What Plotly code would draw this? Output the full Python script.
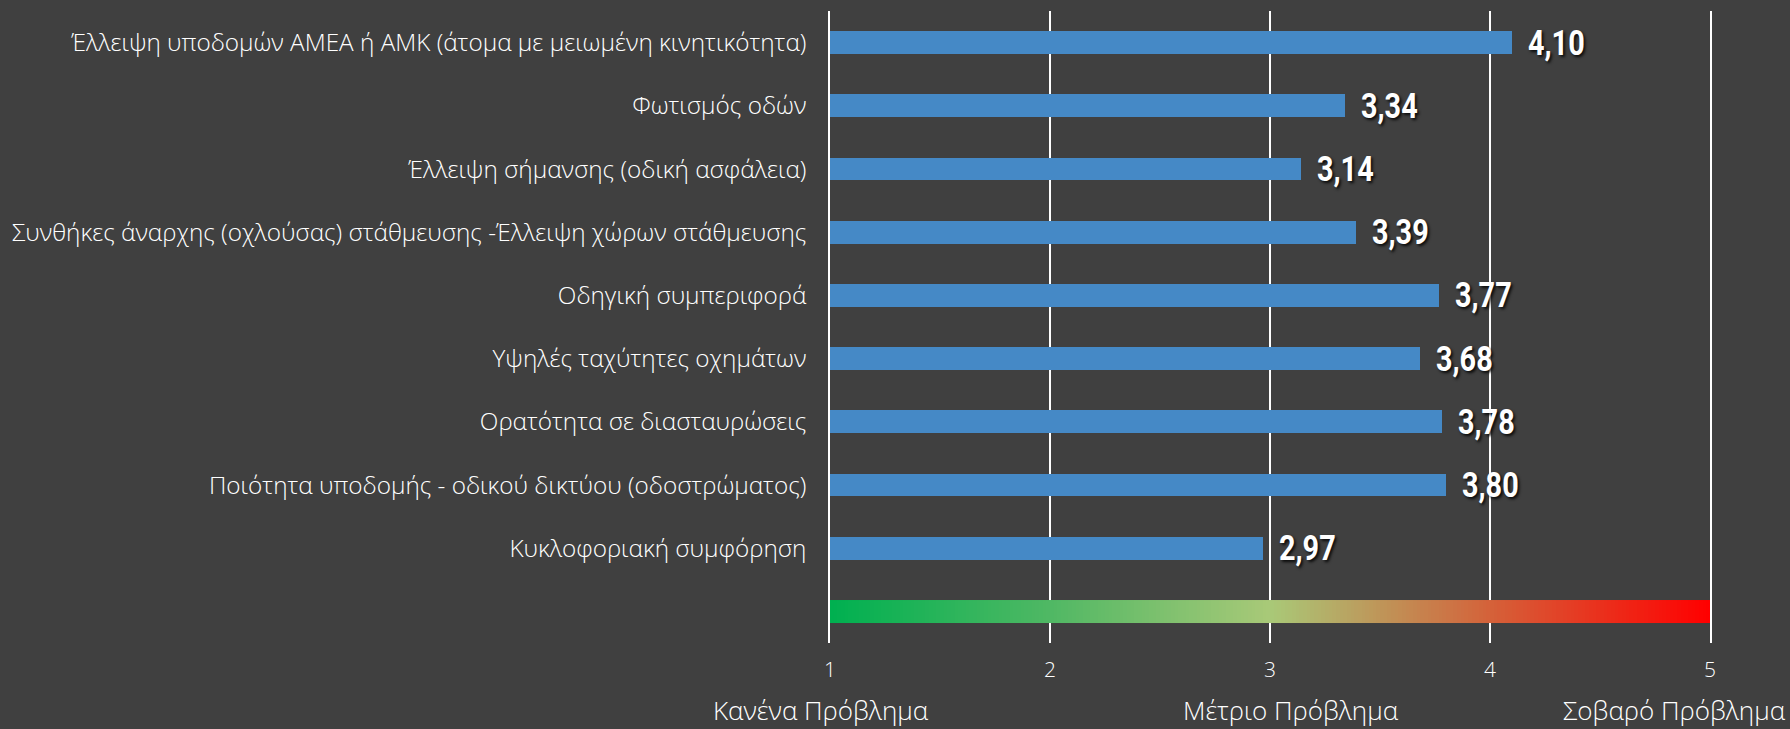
import numpy as np
import plotly.graph_objects as go

# Road-safety problem ratings, top row first (1 = no problem, 5 = serious problem)
categories = [
    "Έλλειψη υποδομών ΑΜΕΑ ή ΑΜΚ (άτομα με μειωμένη κινητικότητα)",
    "Φωτισμός οδών",
    "Έλλειψη σήμανσης (οδική ασφάλεια)",
    "Συνθήκες άναρχης (οχλούσας) στάθμευσης -Έλλειψη χώρων στάθμευσης",
    "Οδηγική συμπεριφορά",
    "Υψηλές ταχύτητες οχημάτων",
    "Ορατότητα σε διασταυρώσεις",
    "Ποιότητα υποδομής - οδικού δικτύου (οδοστρώματος)",
    "Κυκλοφοριακή συμφόρηση",
]
scores = [4.10, 3.34, 3.14, 3.39, 3.77, 3.68, 3.78, 3.80, 2.97]

scale_ticks = [1, 2, 3, 4, 5]
scale_labels = ["Κανένα Πρόβλημα", "Μέτριο Πρόβλημα", "Σοβαρό Πρόβλημα"]
scale_label_pos = [1, 3, 5]

BG = "#404040"
BAR = "#4589c6"
LABEL_FONT = "Open Sans"
VALUE_FONT = "Roboto, sans-serif"

rows = list(range(len(categories)))
legend_row = len(categories)  # row holding the green-to-red scale strip
bar_w = 0.36

fig = go.Figure()

# colour strip under the bars, running across the whole 1–5 scale
edges = np.linspace(scale_ticks[0], scale_ticks[-1], 241)
fig.add_trace(go.Heatmap(
    x=edges,
    y=[legend_row - bar_w / 2, legend_row + bar_w / 2],
    z=[np.linspace(0, 1, len(edges) - 1)],
    colorscale=[
        [0.0, "#00b050"],
        [0.25, "#50b864"],
        [0.5, "#a9c978"],
        [0.75, "#d4623a"],
        [1.0, "#ff0000"],
    ],
    showscale=False,
    hoverinfo="skip",
))

fig.add_trace(go.Bar(
    x=scores,
    y=rows,
    orientation="h",
    width=bar_w,
    marker=dict(color=BAR, line=dict(width=0)),
    hoverinfo="skip",
))

# bold value labels to the right of each bar
for r, v in zip(rows, scores):
    fig.add_annotation(
        x=v, y=r, xref="x", yref="y",
        text=f"{v:.2f}".replace(".", ","),
        showarrow=False, xanchor="left", yanchor="middle", xshift=14,
        font=dict(family=VALUE_FONT, size=36, color="#ffffff", weight="bold",
                  shadow="2px 2px 3px rgba(0,0,0,0.85)"),
    )

# verbal anchors under the numeric scale
shifts = [-9, 21, 78]
anchors = ["center", "center", "right"]
for txt, pos, sh, anc in zip(scale_labels, scale_label_pos, shifts, anchors):
    fig.add_annotation(
        x=pos, y=0, xref="x", yref="paper",
        text=txt, showarrow=False, xanchor=anc, yanchor="top",
        xshift=sh, yshift=-47,
        font=dict(family=LABEL_FONT, size=26, color="#ffffff", weight=300),
    )

fig.update_layout(
    width=1790, height=729,
    margin=dict(l=830, r=80, t=11, b=86),
    paper_bgcolor=BG, plot_bgcolor=BG,
    showlegend=False,
    bargap=0,
    xaxis=dict(
        range=[scale_ticks[0], scale_ticks[-1]],
        tickvals=scale_ticks,
        showgrid=True, gridcolor="#ffffff", gridwidth=1.5,
        zeroline=False, showline=False, ticks="",
        ticklabelstandoff=12,
        tickfont=dict(family=LABEL_FONT, size=21, color="#ffffff", weight=300),
    ),
    yaxis=dict(
        range=[legend_row + 0.5, -0.5],
        tickvals=rows,
        ticktext=categories,
        showgrid=False, zeroline=False, ticks="",
        # vertical lines at both ends of the 1–5 scale
        showline=True, mirror=True, linecolor="#ffffff", linewidth=1.5,
        ticklabelstandoff=17,
        tickfont=dict(family=LABEL_FONT, size=24.3, color="#ffffff", weight=300),
    ),
)

# narrow the bold value labels horizontally (condensed look), anchored at their left edge
condense_values = r"""
var gd = document.getElementById('{plot_id}');
gd.querySelectorAll('.annotation-text').forEach(function (t) {
  if (/^\d,\d\d$/.test(t.textContent)) {
    t.style.transformBox = 'fill-box';
    t.style.transformOrigin = '0 50%';
    t.style.transform = 'scaleX(0.8)';
  }
});
"""

fig.write_html("out.html", post_script=condense_values)
